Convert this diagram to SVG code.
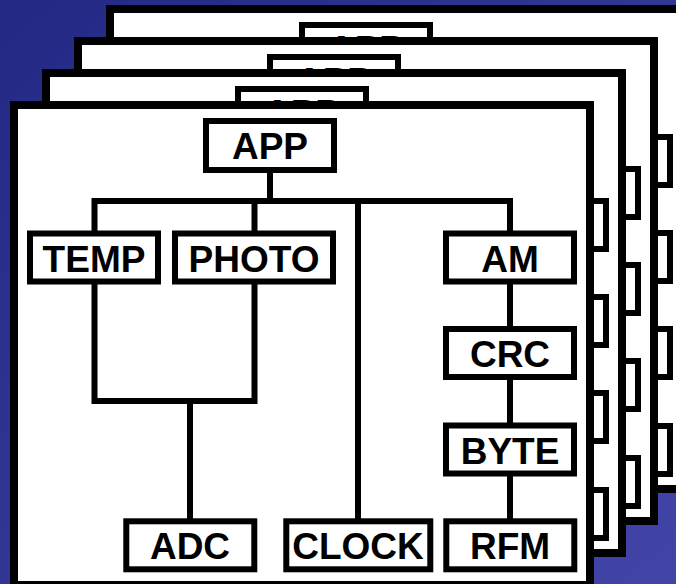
<svg xmlns="http://www.w3.org/2000/svg" xmlns:xlink="http://www.w3.org/1999/xlink" width="676" height="584" viewBox="0 0 676 584">
  <style>
    .card { fill: #ffffff; stroke: #000000; stroke-width: 8; }
    .tab { fill: #ffffff; stroke: #000000; stroke-width: 6; }
    .box { fill: #ffffff; stroke: #000000; stroke-width: 6; }
    .lbl { font-family: "Liberation Sans", Arial, sans-serif; font-weight: bold; font-size: 37px; fill: #000000; text-anchor: middle; }
    .wire { fill: none; stroke: #000000; stroke-width: 6; stroke-linecap: square; }
  </style>
  <defs>
    <linearGradient id="bg" x1="0" y1="0" x2="1" y2="1">
      <stop offset="0" stop-color="#222884"/>
      <stop offset="1" stop-color="#4245a6"/>
    </linearGradient>
    <g id="frame">
      <rect class="tab" x="590" y="201" width="16" height="48"/>
      <rect class="tab" x="590" y="297" width="16" height="48"/>
      <rect class="tab" x="590" y="393" width="16" height="48"/>
      <rect class="tab" x="590" y="490" width="16" height="48"/>
      <rect class="card" x="14" y="105" width="576" height="480"/>
    </g>
    <g id="appShape">
      <rect class="box" x="206" y="121" width="128" height="49"/>
      <text class="lbl" x="270" y="158">APP</text>
    </g>
  </defs>

  <rect x="0" y="0" width="676" height="584" fill="url(#bg)"/>

  <g id="card4" transform="translate(96,-96)">
    <use href="#frame" xlink:href="#frame"/>
    <use href="#appShape" xlink:href="#appShape"/>
  </g>
  <g id="card3" transform="translate(64,-64)">
    <use href="#frame" xlink:href="#frame"/>
    <use href="#appShape" xlink:href="#appShape"/>
  </g>
  <g id="card2" transform="translate(32,-32)">
    <use href="#frame" xlink:href="#frame"/>
    <use href="#appShape" xlink:href="#appShape"/>
  </g>

  <g id="card1">
    <use href="#frame" xlink:href="#frame"/>

    <g id="connectors">
      <path class="wire" d="M270 172 V201"/>
      <path class="wire" d="M94.5 230 V201 H510 V230"/>
      <path class="wire" d="M254.5 201 V230"/>
      <path class="wire" d="M94.5 284 V401 H254.5 V284"/>
      <path class="wire" d="M190 401 V518"/>
      <path class="wire" d="M358 201 V518"/>
      <path class="wire" d="M510 284 V326"/>
      <path class="wire" d="M510 380 V422"/>
      <path class="wire" d="M510 476 V518"/>
    </g>

    <g id="app">
      <rect class="box" x="206" y="121" width="128" height="49"/>
      <text class="lbl" x="270" y="159">APP</text>
    </g>
    <g id="temp">
      <rect class="box" x="30" y="233.5" width="128" height="48"/>
      <text class="lbl" x="94" y="271.5">TEMP</text>
    </g>
    <g id="photo">
      <rect class="box" x="175" y="233.5" width="158" height="48"/>
      <text class="lbl" x="254" y="271.5">PHOTO</text>
    </g>
    <g id="am">
      <rect class="box" x="446" y="233.5" width="128" height="48"/>
      <text class="lbl" x="510" y="271.5">AM</text>
    </g>
    <g id="crc">
      <rect class="box" x="446" y="329" width="128" height="48"/>
      <text class="lbl" x="510" y="367">CRC</text>
    </g>
    <g id="byte">
      <rect class="box" x="446" y="425.5" width="128" height="48"/>
      <text class="lbl" x="510" y="463.5">BYTE</text>
    </g>
    <g id="adc">
      <rect class="box" x="126.3" y="521.3" width="128" height="48"/>
      <text class="lbl" x="190" y="559.3">ADC</text>
    </g>
    <g id="clock">
      <rect class="box" x="286.3" y="521.3" width="144" height="48"/>
      <text class="lbl" x="358" y="559.3">CLOCK</text>
    </g>
    <g id="rfm">
      <rect class="box" x="446.3" y="521.3" width="128" height="48"/>
      <text class="lbl" x="510" y="559.3">RFM</text>
    </g>
  </g>
</svg>
